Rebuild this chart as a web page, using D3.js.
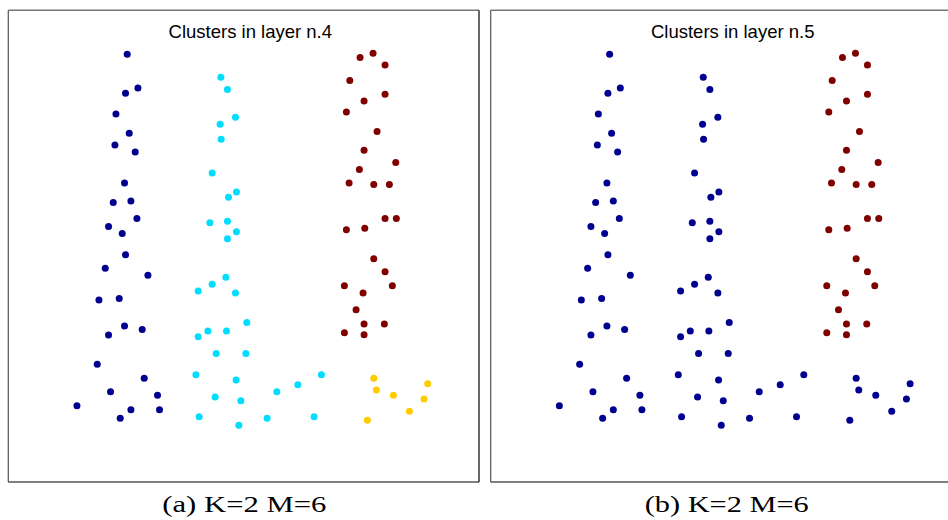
<!DOCTYPE html>
<html>
<head>
<meta charset="utf-8">
<script src="https://cdn.jsdelivr.net/npm/d3@7"></script>
<style>
  body { margin: 0; background: #fff; }
  .title { font-family: "Liberation Sans", Arial, sans-serif; font-size: 18.5px; fill: #000; }
  .caption { font-family: "Liberation Serif", "Times New Roman", serif; font-size: 23px; fill: #000; }
</style>
</head>
<body>
<svg id="chart"></svg>
<script>
// points, [x, y] in axes units (origin bottom-left of the box)
const clusterNavy = [
  [119, 428], [129.7, 394.3], [117.3, 389], [107.7, 368.3], [121, 349], [106.7, 337.3],
  [127, 330.3], [116.3, 299.3], [105, 279.7], [122.7, 281.3], [128.7, 263.7], [100.3, 255.7],
  [114, 248.7], [117.3, 227.3], [97, 214], [139.7, 207], [90.7, 182], [111, 183.7],
  [116.3, 156], [134, 152.7], [100.3, 147], [89, 117.7], [136, 103.7], [102.3, 90.3],
  [149.3, 86.7], [68.7, 76.3], [122.7, 72.3], [151.3, 72.3], [112, 63.7]
];
const clusterCyan = [
  [212.7, 405], [219.3, 392.7], [227.3, 365], [212, 358], [213, 343], [204, 309.3],
  [228.3, 290.3], [220.3, 285], [201.7, 259.3], [219.3, 261], [228.3, 250.3], [219.3, 243.3],
  [217.7, 205], [204, 198], [190, 191], [227.3, 189], [238.7, 159.7], [199.7, 151],
  [218.3, 151], [190, 145.3], [208, 128.7], [237.7, 128.7], [187.7, 107.3], [228, 102],
  [313.3, 107.3], [289.7, 97.3], [268.7, 90.3], [207, 85], [232.7, 81.3], [191, 65.3],
  [259, 63.7], [306, 65.3], [230.7, 56.7]
];
const clusterRed = [
  [365, 429], [352, 424.7], [377, 417.3], [341.7, 401.7], [377, 388], [356, 381.3],
  [338.3, 370.3], [369, 350.7], [356, 332], [387.7, 319.7], [351.3, 312.7], [341, 299.3],
  [365.7, 297.7], [381.3, 297.7], [377, 263.7], [388.3, 263.7], [338.3, 252.3], [356.7, 254],
  [365.7, 223.5], [377, 210.3], [336.3, 196.3], [384.3, 196.3], [355, 189], [348, 172.3],
  [356, 158], [376.3, 158], [336.3, 149.3], [356, 147.3]
];
const clusterYellow = [
  [365.7, 103.7], [419.7, 98.3], [368.3, 92], [385.3, 86.7], [416, 83], [401.3, 70.7],
  [359.3, 61.7]
];

const groupNames = ['navy', 'cyan', 'red', 'yellow'];
const layer4Colors = ['#00008f', '#00ddff', '#800000', '#ffcc00'];
const layer5Colors = ['#000090', '#000090', '#800000', '#000090'];

const panelTitles = ['Clusters in layer n.4', 'Clusters in layer n.5'];
const panelCaptions = ['(a) K=2 M=6', '(b) K=2 M=6'];

const xDomain = [0, 471];
const yDomain = [0, 472];

const width = 948, height = 520;
const panel = {width: 470.7, height: 471.7, top: 10.3, lefts: [8.3, 490.7]};

const svg = d3.select('#chart')
  .attr('width', width)
  .attr('height', height);

const groups = [clusterNavy, clusterCyan, clusterRed, clusterYellow];
const points = [];
groups.forEach((g, gi) => g.forEach(p => points.push({x: p[0], y: p[1], group: gi})));

const xScale = d3.scaleLinear().domain(xDomain).range([0, panel.width]);
const yScale = d3.scaleLinear().domain(yDomain).range([panel.height, 0]);

const colorSets = [layer4Colors, layer5Colors];

panel.lefts.forEach((left, i) => {
  const colorScale = d3.scaleOrdinal().domain(d3.range(groupNames.length)).range(colorSets[i]);

  const g = svg.append('g')
    .attr('transform', `translate(${left},${panel.top})`);

  // box: grey top/left like the matlab export, black bottom/right
  g.append('line').attr('x1', 0).attr('x2', panel.width).attr('y1', 0).attr('y2', 0)
    .attr('stroke', '#777').attr('stroke-width', 1.5);
  g.append('line').attr('x1', 0).attr('x2', 0).attr('y1', 0).attr('y2', panel.height)
    .attr('stroke', '#555').attr('stroke-width', 1.2);
  g.append('line').attr('x1', 0).attr('x2', panel.width).attr('y1', panel.height).attr('y2', panel.height)
    .attr('stroke', '#000').attr('stroke-width', 1.2);
  g.append('line').attr('x1', panel.width).attr('x2', panel.width).attr('y1', 0).attr('y2', panel.height)
    .attr('stroke', '#000').attr('stroke-width', 1.2);

  g.append('text')
    .attr('class', 'title')
    .attr('x', 242)
    .attr('y', 28)
    .attr('text-anchor', 'middle')
    .text(panelTitles[i]);

  g.selectAll('circle')
    .data(points)
    .join('circle')
    .attr('cx', d => xScale(d.x))
    .attr('cy', d => yScale(d.y))
    .attr('r', 3.5)
    .attr('fill', d => colorScale(d.group));

  svg.append('text')
    .attr('class', 'caption')
    .attr('x', left + 154)
    .attr('y', 512)
    .attr('textLength', 164)
    .attr('lengthAdjust', 'spacingAndGlyphs')
    .text(panelCaptions[i]);
});
</script>
</body>
</html>
